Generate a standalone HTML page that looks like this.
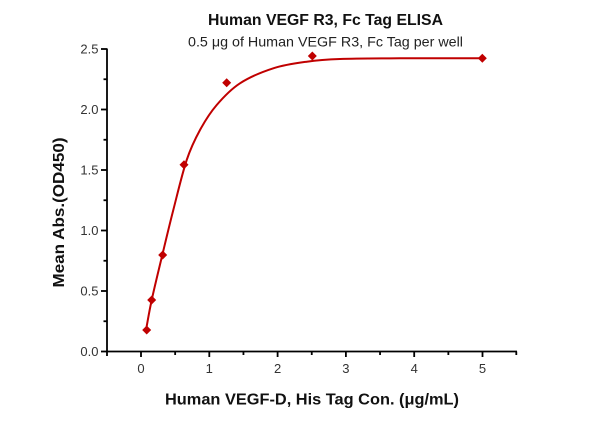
<!DOCTYPE html>
<html>
<head>
<meta charset="utf-8">
<style>
  html, body { margin: 0; padding: 0; background: #ffffff; }
  svg { display: block; }
  text { font-family: "Liberation Sans", "DejaVu Sans", sans-serif; }
</style>
</head>
<body>
<svg width="600" height="421" viewBox="0 0 600 421" xmlns="http://www.w3.org/2000/svg">
  <rect x="0" y="0" width="600" height="421" fill="#ffffff"/>

  <!-- Titles -->
  <text x="325.5" y="25" font-size="16" font-weight="bold" text-anchor="middle" fill="#111" textLength="235" lengthAdjust="spacingAndGlyphs">Human VEGF R3, Fc Tag ELISA</text>
  <text x="325.5" y="46.5" font-size="14" text-anchor="middle" fill="#222" textLength="275" lengthAdjust="spacingAndGlyphs">0.5 μg of Human VEGF R3, Fc Tag per well</text>

  <!-- Axes -->
  <g stroke="#000" stroke-width="1.8" fill="none">
    <line x1="107" y1="48.5" x2="107" y2="356"/>
    <line x1="106" y1="351.5" x2="517" y2="351.5"/>
    <!-- Y major ticks -->
    <line x1="101" y1="351.5" x2="107" y2="351.5"/>
    <line x1="101" y1="291" x2="107" y2="291"/>
    <line x1="101" y1="230.5" x2="107" y2="230.5"/>
    <line x1="101" y1="170" x2="107" y2="170"/>
    <line x1="101" y1="109.5" x2="107" y2="109.5"/>
    <line x1="101" y1="49" x2="107" y2="49"/>
    <!-- Y minor ticks -->
    <line x1="103.5" y1="321.25" x2="107" y2="321.25"/>
    <line x1="103.5" y1="260.75" x2="107" y2="260.75"/>
    <line x1="103.5" y1="200.25" x2="107" y2="200.25"/>
    <line x1="103.5" y1="139.75" x2="107" y2="139.75"/>
    <line x1="103.5" y1="79.25" x2="107" y2="79.25"/>
    <!-- X major ticks -->
    <line x1="141" y1="351.5" x2="141" y2="357"/>
    <line x1="209.3" y1="351.5" x2="209.3" y2="357"/>
    <line x1="277.6" y1="351.5" x2="277.6" y2="357"/>
    <line x1="345.9" y1="351.5" x2="345.9" y2="357"/>
    <line x1="414.2" y1="351.5" x2="414.2" y2="357"/>
    <line x1="482.5" y1="351.5" x2="482.5" y2="357"/>
    <!-- X minor ticks -->
    <line x1="175.15" y1="351.5" x2="175.15" y2="355"/>
    <line x1="243.45" y1="351.5" x2="243.45" y2="355"/>
    <line x1="311.75" y1="351.5" x2="311.75" y2="355"/>
    <line x1="380.05" y1="351.5" x2="380.05" y2="355"/>
    <line x1="448.35" y1="351.5" x2="448.35" y2="355"/>
    <line x1="516.3" y1="351.5" x2="516.3" y2="355"/>
  </g>

  <!-- Y tick labels -->
  <g font-size="13" fill="#333" text-anchor="end">
    <text x="98.5" y="356">0.0</text>
    <text x="98.5" y="295.5">0.5</text>
    <text x="98.5" y="235">1.0</text>
    <text x="98.5" y="174.5">1.5</text>
    <text x="98.5" y="114">2.0</text>
    <text x="98.5" y="53.5">2.5</text>
  </g>

  <!-- X tick labels -->
  <g font-size="13" fill="#333" text-anchor="middle">
    <text x="141" y="373">0</text>
    <text x="209.3" y="373">1</text>
    <text x="277.6" y="373">2</text>
    <text x="345.9" y="373">3</text>
    <text x="414.2" y="373">4</text>
    <text x="482.5" y="373">5</text>
  </g>

  <!-- Axis titles -->
  <text x="312" y="404.5" font-size="16" font-weight="bold" text-anchor="middle" fill="#111" textLength="294" lengthAdjust="spacingAndGlyphs">Human VEGF-D, His Tag Con. (μg/mL)</text>
  <text transform="translate(64,212.5) rotate(-90)" x="0" y="0" font-size="16" font-weight="bold" text-anchor="middle" fill="#111" textLength="150" lengthAdjust="spacingAndGlyphs">Mean Abs.(OD450)</text>

  <!-- Fitted curve -->
  <path fill="none" stroke="#c00000" stroke-width="2" stroke-linejoin="round" stroke-linecap="round"
    d="M146,330
       C147.9,320 148.98,312.5 151.7,300
       C154.42,287.5 158.7,270 162.3,255
       C165.9,240 169.23,225.83 173.3,210
       C177.37,194.17 182.25,173.33 186.7,160
       C191.15,146.67 195,139.17 200,130
       C205,120.83 210.03,112.78 216.7,105
       C223.37,97.22 230.57,89.42 240,83.3
       C249.43,77.18 262.18,71.9 273.3,68.3
       C284.42,64.7 295.58,63.25 306.7,61.7
       C317.82,60.15 324.45,59.57 340,59
       C355.55,58.43 376.33,58.42 400,58.3
       C423.67,58.18 454.67,58.3 482,58.3"/>

  <!-- Data markers -->
  <g fill="#c00000">
    <polygon points="146.7,325.5 151.2,330 146.7,334.5 142.2,330"/>
    <polygon points="151.7,295.5 156.2,300 151.7,304.5 147.2,300"/>
    <polygon points="162.7,250.5 167.2,255 162.7,259.5 158.2,255"/>
    <polygon points="184,160.2 188.5,164.7 184,169.2 179.5,164.7"/>
    <polygon points="226.7,78.2 231.2,82.7 226.7,87.2 222.2,82.7"/>
    <polygon points="312.3,51.5 316.8,56 312.3,60.5 307.8,56"/>
    <polygon points="482.3,53.8 486.8,58.3 482.3,62.8 477.8,58.3"/>
  </g>
</svg>
</body>
</html>
